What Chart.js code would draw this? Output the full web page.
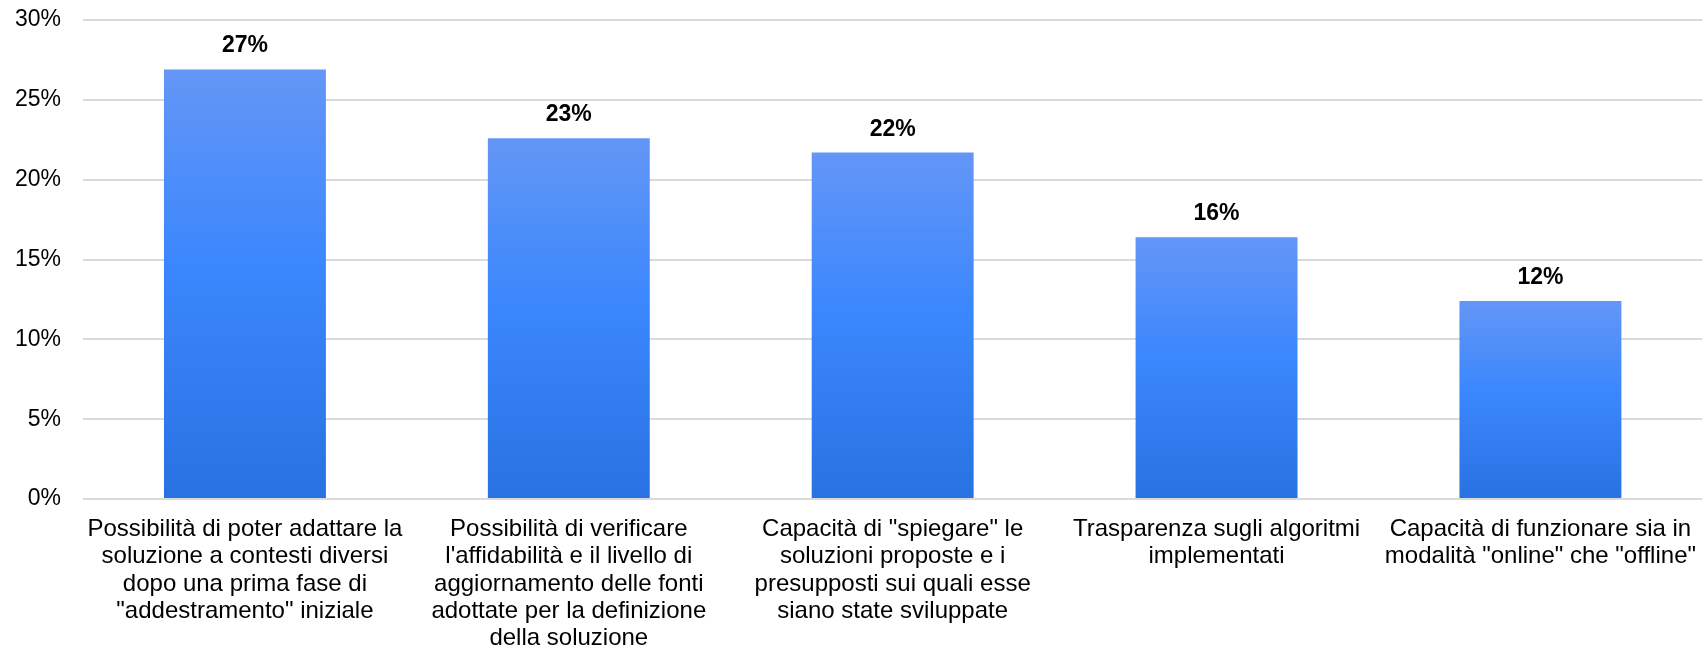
<!DOCTYPE html>
<html lang="it">
<head>
    <meta charset="UTF-8">
    <title>Caratteristiche della soluzione</title>
    <script src="https://cdn.jsdelivr.net/npm/chart.js"></script>
    <style>
        html, body { margin: 0; padding: 0; overflow: hidden; background: #fff; }
        #wrap { width: 1713px; height: 647px; }
    </style>
</head>
<body>
<div id="wrap">
    <canvas id="barChart" width="1713" height="647"></canvas>
</div>

<script>
// categories (already split in lines like the original)
const categories = [
    ["Possibilità di poter adattare la", "soluzione a contesti diversi", "dopo una prima fase di", "\"addestramento\" iniziale"],
    ["Possibilità di verificare", "l'affidabilità e il livello di", "aggiornamento delle fonti", "adottate per la definizione", "della soluzione"],
    ["Capacità di \"spiegare\" le", "soluzioni proposte e i", "presupposti sui quali esse", "siano state sviluppate"],
    ["Trasparenza sugli algoritmi", "implementati"],
    ["Capacità di funzionare sia in", "modalità \"online\" che \"offline\""]
];
// percentages
const values = [26.9, 22.6, 21.7, 16.4, 12.4];
const yTicks = [0, 5, 10, 15, 20, 25, 30];

const FONT = "'Liberation Sans', Arial, sans-serif";

// little plugin: percent label on top of each bar
const valueLabels = {
    id: 'valueLabels',
    afterDatasetsDraw(chart) {
        const ctx = chart.ctx;
        const meta = chart.getDatasetMeta(0);
        ctx.save();
        ctx.font = 'bold 23px ' + FONT;
        ctx.fillStyle = '#000';
        ctx.textAlign = 'center';
        ctx.textBaseline = 'alphabetic';
        meta.data.forEach((bar, i) => {
            ctx.fillText(Math.round(values[i]) + '%', bar.x, bar.y - 17);
        });
        ctx.restore();
    }
};

function barGradient(context) {
    const chart = context.chart;
    if (!chart.chartArea || context.type !== 'data') return '#3a87fd';
    const y = chart.scales.y;
    const top = y.getPixelForValue(context.raw);
    const bottom = y.getPixelForValue(0);
    const g = chart.ctx.createLinearGradient(0, top, 0, bottom);
    g.addColorStop(0, '#6496f6');
    g.addColorStop(0.45, '#3b87fd');
    g.addColorStop(1, '#2872e2');
    return g;
}

const ctx = document.getElementById('barChart').getContext('2d');
new Chart(ctx, {
    type: 'bar',
    data: {
        labels: categories,
        datasets: [{
            data: values,
            backgroundColor: barGradient,
            borderWidth: 0,
            barPercentage: 0.5,
            categoryPercentage: 1.0
        }]
    },
    options: {
        responsive: false,
        animation: false,
        layout: { padding: { top: 20, left: 0, right: 0, bottom: 0 } },
        plugins: {
            legend: { display: false },
            tooltip: { enabled: false }
        },
        scales: {
            x: {
                afterFit(scale) { scale.height = 148; },
                grid: { display: false, drawTicks: false },
                border: { display: false },
                ticks: {
                    color: '#000',
                    font: { family: FONT, size: 24, lineHeight: 1.133 },
                    padding: 17,
                    maxRotation: 0,
                    minRotation: 0,
                    autoSkip: false
                }
            },
            y: {
                min: 0,
                max: 30,
                afterFit(scale) {
                    scale.width = 83;
                    scale.paddingTop = 0;
                    scale.paddingBottom = 0;
                },
                afterBuildTicks(scale) { scale.ticks = yTicks.map(v => ({ value: v })); },
                grid: { color: '#dadada', lineWidth: 2, drawTicks: false },
                border: { display: false },
                ticks: {
                    color: '#000',
                    font: { family: FONT, size: 23 },
                    padding: 22,
                    callback: v => v + '%'
                }
            }
        }
    },
    plugins: [valueLabels]
});
</script>
</body>
</html>
